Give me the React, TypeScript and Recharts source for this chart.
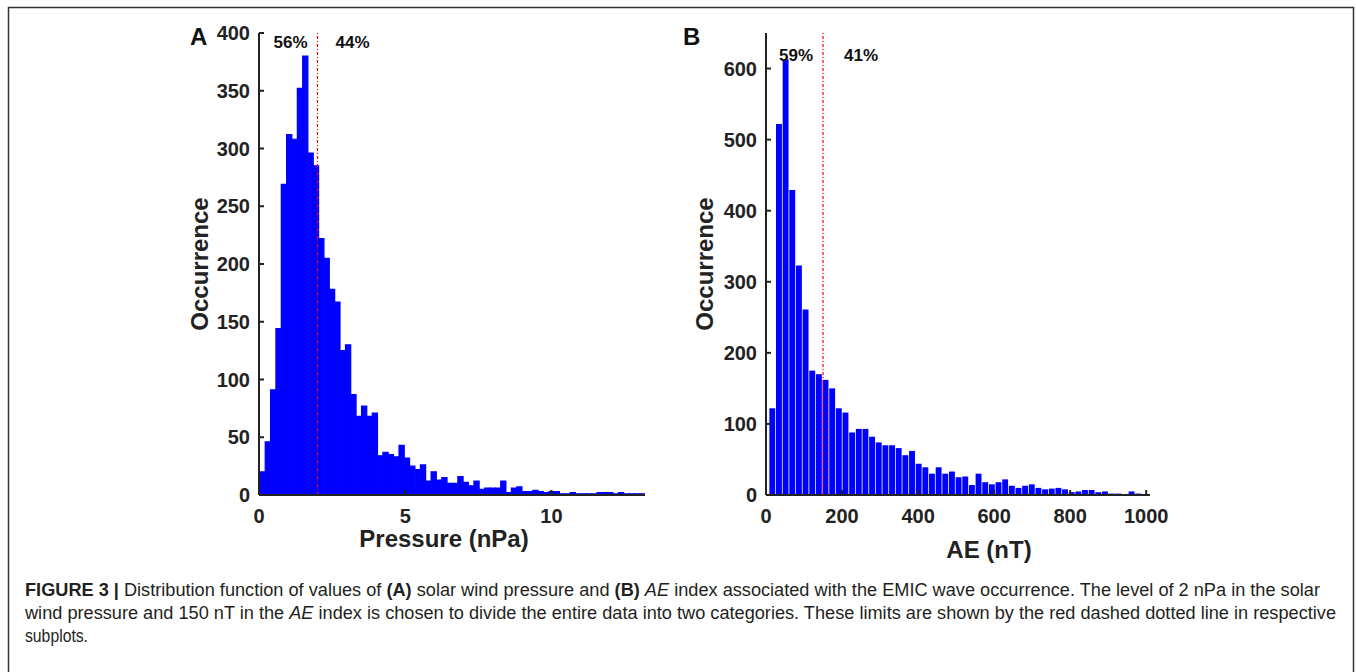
import { BarChart, Bar, XAxis, YAxis, ReferenceLine, Label } from "recharts";

// (A) solar wind pressure histogram, nPa
const PRESSURE_BIN_START = 0.03;
const PRESSURE_BIN_WIDTH = 0.183;
const PRESSURE_COUNTS = [
  20, 46, 91, 144, 269, 312, 308, 352, 380, 296, 285, 222, 205, 178, 167, 125, 130, 87,
  68, 77, 68, 71, 34, 37, 35, 33, 43, 32, 25, 22, 26, 12, 20, 13, 15, 10, 10, 16,
  11, 8, 12, 5, 6, 6, 6, 12, 2, 6, 7, 3, 3, 4, 3, 2, 3, 3, 1, 1, 2, 1, 1, 1, 1, 2, 2,
  2, 1, 2, 1, 1, 1, 1,
];
const PRESSURE_TICKS = [0, 5, 10];
const PRESSURE_Y_TICKS = [0, 50, 100, 150, 200, 250, 300, 350, 400];
const PRESSURE_LIMIT = 2;

// (B) AE index histogram, nT
const AE_BIN_START = 8.8;
const AE_BIN_WIDTH = 17.5;
const AE_COUNTS = [
  122, 522, 613, 429, 323, 261, 175, 170, 162, 150, 122, 116, 88, 93, 93, 82, 74, 70,
  70, 66, 56, 62, 44, 39, 30, 39, 30, 33, 25, 26, 14, 30, 18, 15, 18, 22, 13, 10, 13,
  15, 10, 8, 9, 10, 8, 4, 5, 7, 7, 4, 5, 2, 2, 1, 5, 2,
];
const AE_TICKS = [0, 200, 400, 600, 800, 1000];
const AE_Y_TICKS = [0, 100, 200, 300, 400, 500, 600];
const AE_LIMIT = 150;

const pressureData = PRESSURE_COUNTS.map((count, i) => ({
  x: PRESSURE_BIN_START + (i + 0.5) * PRESSURE_BIN_WIDTH,
  count,
}));
const aeData = AE_COUNTS.map((count, i) => ({
  x: AE_BIN_START + (i + 0.5) * AE_BIN_WIDTH,
  count,
}));

const AXIS = "#222";
const BLUE = "#0000ff";
const RED = "#ff0000";
const FONT = "'Liberation Sans', Arial, Helvetica, sans-serif";

const YTick = (props: any) => {
  const { x, y, payload } = props;
  return (
    <g>
      <line x1={x} x2={x + 5} y1={y} y2={y} stroke={AXIS} strokeWidth={2} />
      <text x={x - 9} y={y} dy="0.35em" textAnchor="end" fontSize={20} fontWeight={700} fill={AXIS} fontFamily={FONT}>
        {payload.value}
      </text>
    </g>
  );
};

const XTick = (props: any) => {
  const { x, y, payload } = props;
  return (
    <g>
      <line x1={x} x2={x} y1={y} y2={y - 5} stroke={AXIS} strokeWidth={2} />
      <text x={x} y={y + 28} textAnchor="middle" fontSize={20} fontWeight={700} fill={AXIS} fontFamily={FONT}>
        {payload.value}
      </text>
    </g>
  );
};

const yTitle = (dx: number) => (p: any) => {
  const vb = p.viewBox;
  const cx = vb.x + vb.width - dx;
  const cy = vb.y + vb.height / 2;
  return (
    <text x={cx} y={cy} transform={`rotate(-90 ${cx} ${cy})`} textAnchor="middle" fontSize={24} fontWeight={700} fill={AXIS} fontFamily={FONT}>
      Occurrence
    </text>
  );
};

const xTitle = (text: string, dx: number, dy: number) => (p: any) => {
  const vb = p.viewBox;
  return (
    <text x={vb.x + vb.width / 2 + dx} y={vb.y + dy} textAnchor="middle" fontSize={24} fontWeight={700} fill={AXIS} fontFamily={FONT}>
      {text}
    </text>
  );
};

const splitLabel = (left: string, right: string, dl: number, dr: number, dy: number) => (p: any) => {
  const vb = p.viewBox;
  return (
    <g>
      <text x={vb.x + dl} y={vb.y + dy} textAnchor="middle" fontSize={17} fontWeight={700} fill="#111" fontFamily={FONT}>
        {left}
      </text>
      <text x={vb.x + dr} y={vb.y + dy} textAnchor="middle" fontSize={17} fontWeight={700} fill="#111" fontFamily={FONT}>
        {right}
      </text>
    </g>
  );
};

function PressureChart() {
  // barSize must stay under the band size (~5.35px) or recharts shrinks the bars;
  // the same-colour stroke closes the seams between neighbouring bins
  return (
    <BarChart width={660} height={580} data={pressureData} margin={{ top: 33, right: 15, bottom: 25, left: 179 }}>
      <XAxis
        type="number"
        dataKey="x"
        domain={[0, 13.2]}
        allowDataOverflow
        ticks={PRESSURE_TICKS}
        interval={0}
        height={60}
        tickSize={0}
        tickMargin={0}
        tick={<XTick />}
        axisLine={{ stroke: AXIS, strokeWidth: 2 }}
      >
        <Label content={xTitle("Pressure (nPa)", -8, 52)} />
      </XAxis>
      <YAxis
        type="number"
        domain={[0, 400]}
        ticks={PRESSURE_Y_TICKS}
        interval={0}
        width={80}
        tickSize={0}
        tickMargin={0}
        tick={<YTick />}
        axisLine={{ stroke: AXIS, strokeWidth: 2 }}
      >
        <Label content={yTitle(51)} />
      </YAxis>
      <Bar dataKey="count" fill={BLUE} stroke={BLUE} strokeWidth={1.2} barSize={5.2} isAnimationActive={false} />
      <ReferenceLine
        x={PRESSURE_LIMIT}
        stroke={RED}
        strokeWidth={1.2}
        strokeDasharray="3 2 1 2"
        label={splitLabel("56%", "44%", -27, 35, 15)}
      />
    </BarChart>
  );
}

function AEChart() {
  return (
    <BarChart width={520} height={580} data={aeData} margin={{ top: 33, right: 30, bottom: 25, left: 26 }}>
      <XAxis
        type="number"
        dataKey="x"
        domain={[0, 1010]}
        allowDataOverflow
        ticks={AE_TICKS}
        interval={0}
        height={60}
        tickSize={0}
        tickMargin={0}
        tick={<XTick />}
        axisLine={{ stroke: AXIS, strokeWidth: 2 }}
      >
        <Label content={xTitle("AE (nT)", 31, 63)} />
      </XAxis>
      <YAxis
        type="number"
        domain={[0, 650]}
        ticks={AE_Y_TICKS}
        interval={0}
        width={80}
        tickSize={0}
        tickMargin={0}
        tick={<YTick />}
        axisLine={{ stroke: AXIS, strokeWidth: 2 }}
      >
        <Label content={yTitle(53)} />
      </YAxis>
      <Bar dataKey="count" fill={BLUE} barSize={5.9} isAnimationActive={false} />
      <ReferenceLine
        x={AE_LIMIT}
        stroke={RED}
        strokeWidth={1.2}
        strokeDasharray="3 2 1 2"
        label={splitLabel("59%", "41%", -27, 38, 28)}
      />
    </BarChart>
  );
}

const CAPTION = "#231f20";
const CAP_FONT = "'Liberation Sans', Arial, sans-serif";

export default function App() {
  return (
    <div style={{ position: "absolute", left: 0, top: 0, width: 1356, height: 672, background: "#fff", overflow: "hidden" }}>
      <div style={{ position: "absolute", left: 0, top: 0 }}>
        <PressureChart />
      </div>
      <div style={{ position: "absolute", left: 660, top: 0 }}>
        <AEChart />
      </div>
      <svg width={1356} height={672} style={{ position: "absolute", left: 0, top: 0, pointerEvents: "none" }}>
        <rect x={8.5} y={7.5} width={1345} height={700} fill="none" stroke="#333" strokeWidth={1.5} />
        <text x={190} y={45} fontSize={24} fontWeight={700} fill="#111" fontFamily={FONT}>A</text>
        <text x={683} y={45} fontSize={24} fontWeight={700} fill="#111" fontFamily={FONT}>B</text>
        <text x={25} y={596} fontSize={17.5} fill={CAPTION} fontFamily={CAP_FONT} textLength={1295} lengthAdjust="spacingAndGlyphs">
          <tspan fontWeight={700}>FIGURE 3 |</tspan>
          {" Distribution function of values of "}
          <tspan fontWeight={700}>(A)</tspan>
          {" solar wind pressure and "}
          <tspan fontWeight={700}>(B)</tspan>
          {" "}
          <tspan fontStyle="italic">AE</tspan>
          {" index associated with the EMIC wave occurrence. The level of 2 nPa in the solar"}
        </text>
        <text x={25} y={619} fontSize={17.5} fill={CAPTION} fontFamily={CAP_FONT} textLength={1311} lengthAdjust="spacingAndGlyphs">
          {"wind pressure and 150 nT in the "}
          <tspan fontStyle="italic">AE</tspan>
          {" index is chosen to divide the entire data into two categories. These limits are shown by the red dashed dotted line in respective"}
        </text>
        <text x={25} y={642} fontSize={17.5} fill={CAPTION} fontFamily={CAP_FONT} textLength={63} lengthAdjust="spacingAndGlyphs">
          subplots.
        </text>
      </svg>
    </div>
  );
}
